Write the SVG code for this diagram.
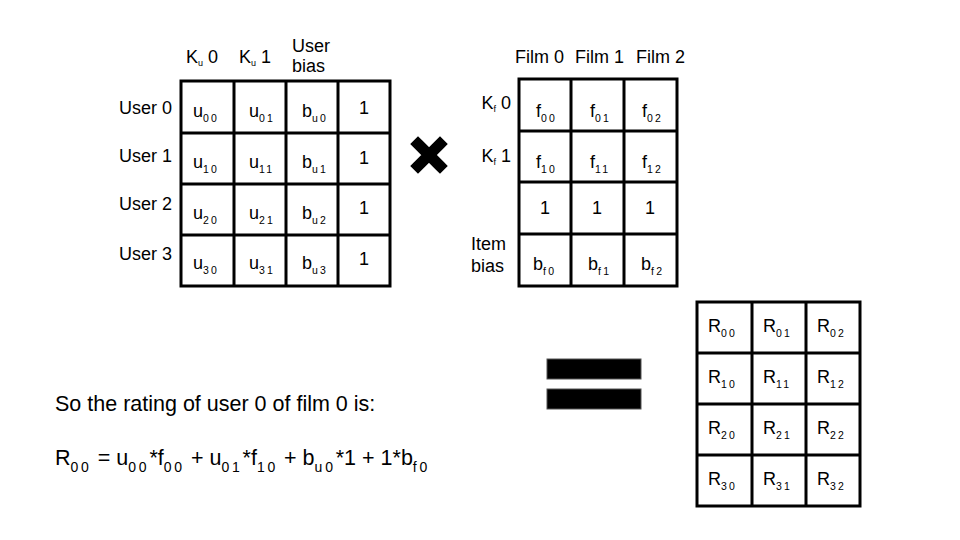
<svg xmlns="http://www.w3.org/2000/svg" width="960" height="540" viewBox="0 0 960 540">
<style>
text{font-family:"Liberation Sans",Arial,sans-serif;font-size:18px;fill:#000}
.s{font-size:10.5px;letter-spacing:2.2px}
.ks{font-size:9px}
.c{text-anchor:middle}
.e{text-anchor:end}
.g{fill:none;stroke:#000;stroke-width:3}
.big{font-size:21.5px}
.bs{font-size:14px;letter-spacing:2.8px}
.eq{fill:#000;stroke:#555;stroke-width:1}
</style>
<rect width="960" height="540" fill="#fff"/>
<g id="connectors"/>
<g id="user-matrix">
<path class="g" d="M181,81H390V286H181Z M234,81V286 M286,81V286 M338,81V286 M181,133H390 M181,184H390 M181,235H390"/>
<text x="186" y="63">K<tspan class="ks" dy="3">u</tspan><tspan dy="-3"> 0</tspan></text>
<text x="239" y="63">K<tspan class="ks" dy="3">u</tspan><tspan dy="-3"> 1</tspan></text>
<text x="292" y="52">User</text>
<text x="292" y="72">bias</text>
<text class="e" x="172" y="114">User 0</text>
<text class="e" x="172" y="162">User 1</text>
<text class="e" x="172" y="210">User 2</text>
<text class="e" x="172" y="260">User 3</text>
<text x="193" y="117">u<tspan class="s" dy="5">00</tspan></text>
<text x="249" y="117">u<tspan class="s" dy="5">01</tspan></text>
<text x="302" y="117">b<tspan class="s" dy="5">u0</tspan></text>
<text class="c" x="364" y="114">1</text>
<text x="193" y="168">u<tspan class="s" dy="5">10</tspan></text>
<text x="249" y="168">u<tspan class="s" dy="5">11</tspan></text>
<text x="302" y="168">b<tspan class="s" dy="5">u1</tspan></text>
<text class="c" x="364" y="164">1</text>
<text x="193" y="219">u<tspan class="s" dy="5">20</tspan></text>
<text x="249" y="219">u<tspan class="s" dy="5">21</tspan></text>
<text x="302" y="219">b<tspan class="s" dy="5">u2</tspan></text>
<text class="c" x="364" y="214">1</text>
<text x="193" y="269">u<tspan class="s" dy="5">30</tspan></text>
<text x="249" y="269">u<tspan class="s" dy="5">31</tspan></text>
<text x="302" y="269">b<tspan class="s" dy="5">u3</tspan></text>
<text class="c" x="364" y="265">1</text>
</g>
<g id="times">
<path d="M418,144L440,166M440,144L418,166" stroke="#000" stroke-width="11" stroke-linecap="square" fill="none"/>
</g>
<g id="film-matrix">
<path class="g" d="M519,79H677V286H519Z M571,79V286 M624,79V286 M519,131H677 M519,182H677 M519,234H677"/>
<text x="515" y="63">Film 0</text>
<text x="575" y="63">Film 1</text>
<text x="636" y="63">Film 2</text>
<text class="e" x="511" y="109">K<tspan class="ks" dy="3">f</tspan><tspan dy="-3"> 0</tspan></text>
<text class="e" x="511" y="162">K<tspan class="ks" dy="3">f</tspan><tspan dy="-3"> 1</tspan></text>
<text x="471" y="250">Item</text>
<text x="471" y="272">bias</text>
<text x="536" y="117">f<tspan class="s" dy="5">00</tspan></text>
<text x="590" y="117">f<tspan class="s" dy="5">01</tspan></text>
<text x="642" y="117">f<tspan class="s" dy="5">02</tspan></text>
<text x="536" y="168">f<tspan class="s" dy="5">10</tspan></text>
<text x="590" y="168">f<tspan class="s" dy="5">11</tspan></text>
<text x="642" y="168">f<tspan class="s" dy="5">12</tspan></text>
<text class="c" x="545" y="214">1</text>
<text class="c" x="597" y="214">1</text>
<text class="c" x="650" y="214">1</text>
<text x="533" y="270">b<tspan class="s" dy="5">f0</tspan></text>
<text x="588" y="270">b<tspan class="s" dy="5">f1</tspan></text>
<text x="641" y="270">b<tspan class="s" dy="5">f2</tspan></text>
</g>
<g id="equals">
<rect class="eq" x="547" y="359" width="94" height="20"/>
<rect class="eq" x="547" y="389" width="94" height="20"/>
</g>
<g id="result-matrix">
<path class="g" d="M697,302H860V506H697Z M752,302V506 M806,302V506 M697,353H860 M697,404H860 M697,455H860"/>
<text x="708" y="332">R<tspan class="s" dy="5">00</tspan></text>
<text x="763" y="332">R<tspan class="s" dy="5">01</tspan></text>
<text x="817" y="332">R<tspan class="s" dy="5">02</tspan></text>
<text x="708" y="383">R<tspan class="s" dy="5">10</tspan></text>
<text x="763" y="383">R<tspan class="s" dy="5">11</tspan></text>
<text x="817" y="383">R<tspan class="s" dy="5">12</tspan></text>
<text x="708" y="434">R<tspan class="s" dy="5">20</tspan></text>
<text x="763" y="434">R<tspan class="s" dy="5">21</tspan></text>
<text x="817" y="434">R<tspan class="s" dy="5">22</tspan></text>
<text x="708" y="485">R<tspan class="s" dy="5">30</tspan></text>
<text x="763" y="485">R<tspan class="s" dy="5">31</tspan></text>
<text x="817" y="485">R<tspan class="s" dy="5">32</tspan></text>
</g>
<g id="explanation">
<text class="big" x="55" y="411">So the rating of user 0 of film 0 is:</text>
<text class="big" x="55" y="465">R<tspan class="bs" dy="7">00</tspan><tspan dy="-7"> = u</tspan><tspan class="bs" dy="7">00</tspan><tspan dy="-7">*f</tspan><tspan class="bs" dy="7">00</tspan><tspan dy="-7"> + u</tspan><tspan class="bs" dy="7">01</tspan><tspan dy="-7">*f</tspan><tspan class="bs" dy="7">10</tspan><tspan dy="-7"> + b</tspan><tspan class="bs" dy="7">u0</tspan><tspan dy="-7">*1 + 1*b</tspan><tspan class="bs" dy="7">f0</tspan></text>
</g>
</svg>
